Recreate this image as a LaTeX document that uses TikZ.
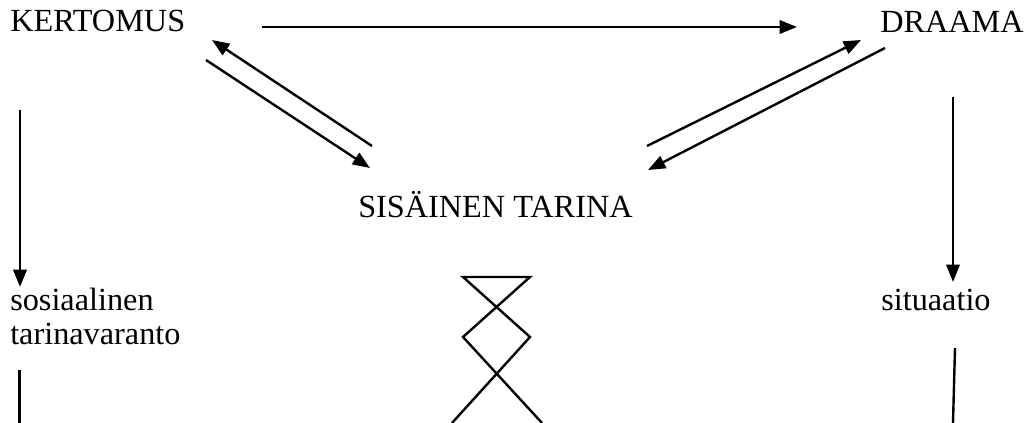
\documentclass[tikz,border=0pt]{standalone}
\usepackage{fontspec}
\setmainfont{Liberation Serif}
\usepackage{tikz}
\usetikzlibrary{arrows.meta,positioning}

\tikzset{
  lbl/.style={anchor=base west,inner sep=0pt,font=\fontsize{24.2}{25.5}\selectfont},
  arr/.style={line width=1.8pt,-{Triangle[length=13pt,width=10pt]}}
}

\begin{document}
\begin{tikzpicture}[x=0.75pt,y=-0.75pt,>=Stealth]
  \useasboundingbox (0,0) rectangle (1025,423);
  % labels
  \node[lbl] (kert) at (10,32) {KERTOMUS};
  \node[lbl] (draama) at (880,33) {DRAAMA};
  \node[lbl] (sis) at (358,218) {SISÄINEN TARINA};
  \node[lbl] (sos) at (10,311) {sosiaalinen};
  \node[lbl] (tar) at (10,345) {tarinavaranto};
  \node[lbl] (sit) at (881,311) {situaatio};
  % arrow ends
  \coordinate (KR) at (262,27);
  \coordinate (DL) at (797,27);
  \coordinate (K1) at (212,40);
  \coordinate (K2) at (206,60);
  \coordinate (S1) at (372,146);
  \coordinate (S2) at (370,168);
  \coordinate (D1) at (861,40);
  \coordinate (D2) at (885,48);
  \coordinate (S3) at (647,146);
  \coordinate (S4) at (648,170);
  \coordinate (KD) at (20,110);
  \coordinate (SU) at (20,287);
  \coordinate (DD) at (953,97);
  \coordinate (TU) at (953,282);
  \coordinate (TB) at (19.5,370);
  \coordinate (TE) at (19.5,423);
  \coordinate (IB) at (955,348);
  \coordinate (IE) at (953,423);
  % arrows
  \draw[arr] (KR)--(DL);
  \draw[arr] (S1)--(K1);
  \draw[arr] (K2)--(S2);
  \draw[arr] (S3)--(D1);
  \draw[arr] (D2)--(S4);
  \draw[arr] (KD)--(SU);
  \draw[arr] (DD)--(TU);
  \draw[line width=1.8pt] (TB)--(TE);
  \draw[line width=1.8pt] (IB)--(IE);
  % the crossing figure
  \draw[line width=1.8pt,line join=miter] (452,423)--(530,337)--(463,277)--(530,277)--(463,337)--(542,423);
\end{tikzpicture}
\end{document}
